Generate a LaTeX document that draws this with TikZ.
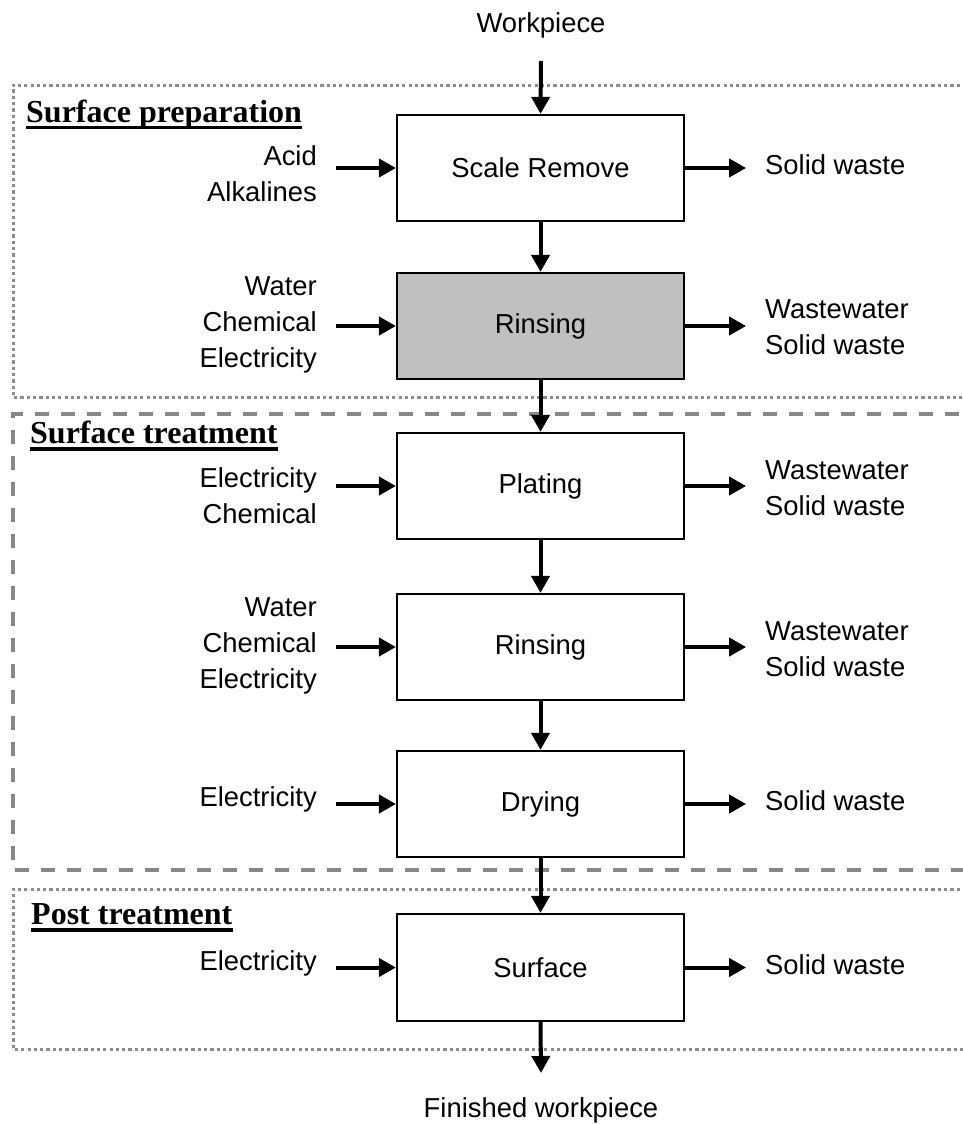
\documentclass[tikz,border=0pt]{standalone}
\usepackage{fontspec}
\setmainfont{Liberation Serif}
\newfontfamily\labfont{Liberation Sans}
\usetikzlibrary{arrows.meta}
\definecolor{framegray}{RGB}{140,140,140}
\definecolor{dashgray}{RGB}{136,136,136}
\definecolor{boxgray}{RGB}{192,192,192}
\begin{document}
\begin{tikzpicture}[x=1pt,y=-1pt,
  proc/.style={draw=black,line width=2.2pt,minimum width=287pt,minimum height=106pt,inner sep=0pt,
    font=\labfont\fontsize{27.4}{36}\selectfont},
  lab/.style={font=\labfont\fontsize{27.4}{36}\selectfont,inner sep=0pt},
  inlab/.style={lab,align=right,anchor=east},
  outlab/.style={lab,align=left,anchor=west},
  head/.style={font=\bfseries\fontsize{32}{38}\selectfont,inner sep=0pt,anchor=base west},
  flow/.style={line width=4pt,-{Triangle[length=17pt,width=18pt]}},
  dotframe/.style={draw=framegray,line width=3pt,dash pattern=on 3.2pt off 3.1pt},
  dashframe/.style={draw=dashgray,line width=4pt,dash pattern=on 14pt off 12pt},
  uline/.style={line width=3.3pt}
]
\useasboundingbox (0,0) rectangle (963,1124);
% frames
\draw[dotframe] (985,85) -- (13,85) -- (13,397) -- (985,397);
\draw[dashframe] (985,414) -- (13,414) -- (13,870) -- (985,870);
\draw[dotframe] (985,889) -- (13,889) -- (13,1049) -- (985,1049);
% headings
\node[head] (h1) at (26,122) {Surface preparation};
\draw[uline] ([yshift=-5.5pt]h1.base west) -- ([yshift=-5.5pt]h1.base east);
\node[head] (h2) at (30,443.5) {Surface treatment};
\draw[uline] ([yshift=-5.5pt]h2.base west) -- ([yshift=-5.5pt]h2.base east);
\node[head] (h3) at (31,924.5) {Post treatment};
\draw[uline] ([yshift=-5.5pt]h3.base west) -- ([yshift=-5.5pt]h3.base east);
% boxes
\node[proc] (b1) at (540.5,168) {Scale Remove};
\node[proc,fill=boxgray] (b2) at (540.5,326) {Rinsing};
\node[proc] (b3) at (540.5,486) {Plating};
\node[proc] (b4) at (540.5,647) {Rinsing};
\node[proc] (b5) at (540.5,804) {Drying};
\node[proc,minimum height=107pt] (b6) at (540.5,967.5) {Surface};
% top and bottom
\node[lab] (wp) at (541,25) {Workpiece};
\node[lab] (fw) at (541,1110) {Finished workpiece};
\coordinate (wpa) at (541,61);
\coordinate (fwa) at (541,1073);
\draw[flow] (wpa) -- (b1.north);
\draw[flow] (b1.south) -- (b2.north);
\draw[flow] (b2.south) -- (b3.north);
\draw[flow] (b3.south) -- (b4.north);
\draw[flow] (b4.south) -- (b5.north);
\draw[flow] (b5.south) -- (b6.north);
\draw[flow] (b6.south) -- (fwa);
% inputs
\node[inlab] (i1) at (317,174) {Acid\\Alkalines};
\node[inlab] (i2) at (317,325) {Water\\Chemical\\Electricity};
\node[inlab] (i3) at (317,496) {Electricity\\Chemical};
\node[inlab] (i4) at (317,646) {Water\\Chemical\\Electricity};
\node[inlab] (i5) at (317,799) {Electricity};
\node[inlab] (i6) at (317,963) {Electricity};
\foreach \b in {1,...,6}{
  \coordinate (ia\b) at ([xshift=-60pt]b\b.west);
  \draw[flow] (ia\b) -- (b\b.west);
  \coordinate (oa\b) at ([xshift=61pt]b\b.east);
  \draw[flow] (b\b.east) -- (oa\b);
}
% outputs
\node[outlab] (o1) at (765,165) {Solid waste};
\node[outlab] (o2) at (765,327) {Wastewater\\Solid waste};
\node[outlab] (o3) at (765,488) {Wastewater\\Solid waste};
\node[outlab] (o4) at (765,649) {Wastewater\\Solid waste};
\node[outlab] (o5) at (765,801) {Solid waste};
\node[outlab] (o6) at (765,965) {Solid waste};
\end{tikzpicture}
\end{document}
